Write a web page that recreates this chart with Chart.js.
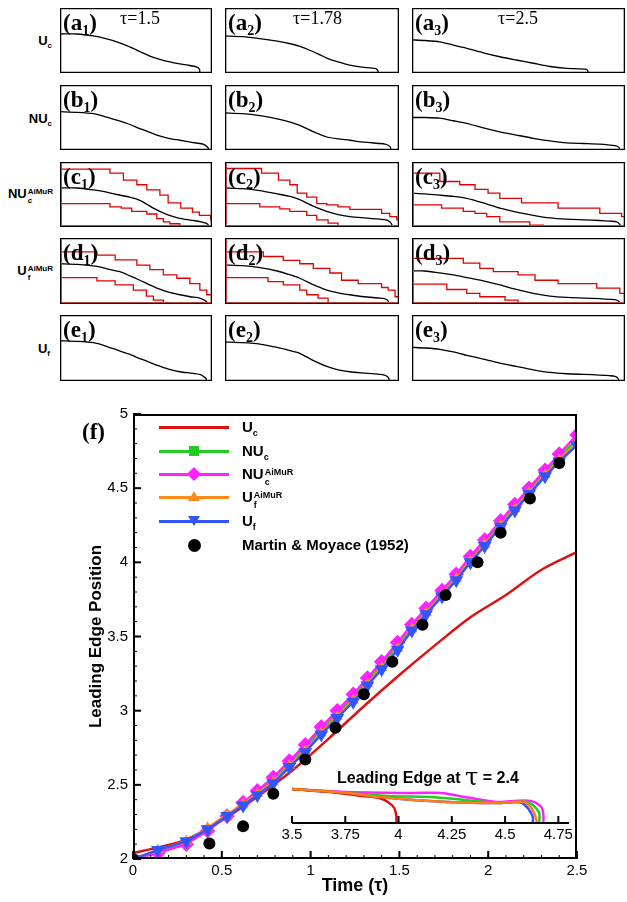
<!DOCTYPE html>
<html>
<head>
<meta charset="utf-8">
<script src="https://cdn.jsdelivr.net/npm/chart.js@4.4.0/dist/chart.umd.min.js"></script>
<style>
  body { margin: 0; background: #fff; width: 627px; height: 902px; position: relative; overflow: hidden; font-family: 'Liberation Sans', Arial, sans-serif; }
  .box { position: absolute; }
  .box canvas { display: block; }
  .pl { position: absolute; font: bold 23px 'Liberation Serif', 'Times New Roman', serif; line-height: 23px; white-space: nowrap; }
  .pl sub { font-size: 14px; vertical-align: -5px; line-height: 0; }
  .tl { position: absolute; font: 18px 'Liberation Serif', 'Times New Roman', serif; line-height: 18px; white-space: nowrap; }
  .rl { position: absolute; font: bold 13px 'Liberation Sans', Arial, sans-serif; line-height: 13px; white-space: nowrap; }
  .rl sub { font-size: 8px; vertical-align: -3px; line-height: 0; }
  .ss { display: inline-block; vertical-align: -5px; font-size: 8px; line-height: 9px; margin-left: 1px; }
  .ss span { display: block; }
  .lg-line { position: absolute; left: 159px; width: 70px; height: 3px; }
  .lt { position: absolute; left: 242px; font: bold 15px 'Liberation Sans', Arial, sans-serif; line-height: 15px; white-space: nowrap; }
  .lt sub { font-size: 9px; vertical-align: -4px; line-height: 0; }
  .lt .ss { font-size: 9px; line-height: 10px; vertical-align: -6px; }
  .mk { position: absolute; }
  .inset-title { position: absolute; left: 337px; top: 763px; font: bold 16px 'Liberation Sans', Arial, sans-serif; line-height: 20px; white-space: nowrap; }
  .inset-title .bt { font: 24px 'DejaVu Serif', serif; vertical-align: -2px; }
</style>
</head>
<body>

<!-- row labels -->
<div class="rl" style="right:575px;top:34px">U<sub>c</sub></div>
<div class="rl" style="right:575px;top:112px">NU<sub>c</sub></div>
<div class="rl" style="right:574px;top:187px">NU<span class="ss"><span>AiMuR</span><span>c</span></span></div>
<div class="rl" style="right:574px;top:264px">U<span class="ss"><span>AiMuR</span><span>f</span></span></div>
<div class="rl" style="right:577px;top:342px">U<sub>f</sub></div>

<div id="panels"></div>

<!-- panel (f) -->
<div class="box" style="left:0;top:400px;width:627px;height:502px"><canvas id="mainChart"></canvas></div>
<div class="box" style="left:270px;top:755px;width:330px;height:95px"><canvas id="insetChart"></canvas></div>
<div class="pl" style="left:82px;top:420px">(f)</div>
<div class="inset-title">Leading Edge at <span class="bt">τ</span> = 2.4</div>

<!-- legend -->
<div class="lg-line" style="top:426px;background:#dd1111"></div>
<div class="lt" style="top:419px">U<sub>c</sub></div>

<div class="lg-line" style="top:450px;background:#22cc22"></div>
<div class="mk" style="left:189px;top:446px;width:10px;height:10px;background:#22cc22"></div>
<div class="lt" style="top:443px">NU<sub>c</sub></div>

<div class="lg-line" style="top:473px;background:#ff22ff"></div>
<div class="mk" style="left:189px;top:469px;width:10px;height:10px;background:#ff22ff;transform:rotate(45deg)"></div>
<div class="lt" style="top:466px">NU<span class="ss"><span>AiMuR</span><span>c</span></span></div>

<div class="lg-line" style="top:496px;background:#ff8c1a"></div>
<div class="mk" style="left:188px;top:491px;width:0;height:0;border-left:6px solid transparent;border-right:6px solid transparent;border-bottom:10px solid #ff8c1a"></div>
<div class="lt" style="top:489px">U<span class="ss"><span>AiMuR</span><span>f</span></span></div>

<div class="lg-line" style="top:520px;background:#3355ff"></div>
<div class="mk" style="left:188px;top:516px;width:0;height:0;border-left:6px solid transparent;border-right:6px solid transparent;border-top:10px solid #3355ff"></div>
<div class="lt" style="top:513px">U<sub>f</sub></div>

<div class="mk" style="left:188px;top:539px;width:13px;height:13px;border-radius:50%;background:#000"></div>
<div class="lt" style="top:537px">Martin &amp; Moyace (1952)</div>

<script>
// ---------- panel (f): leading edge position vs time ----------
const tauMarks = [0, 0.14, 0.30, 0.42, 0.53, 0.62, 0.70, 0.79, 0.88, 0.97, 1.06, 1.15, 1.24, 1.32,
                  1.40, 1.49, 1.57, 1.65, 1.74, 1.82, 1.90, 1.98, 2.07, 2.15, 2.23, 2.32, 2.40, 2.50];
const posUf     = [2.00, 2.06, 2.12, 2.20, 2.29, 2.36, 2.43, 2.51, 2.62, 2.72, 2.84, 2.95, 3.06, 3.17,
                   3.28, 3.41, 3.54, 3.65, 3.77, 3.88, 4.00, 4.11, 4.24, 4.35, 4.46, 4.58, 4.68, 4.79];
const posUfAmr  = [2.00, 2.06, 2.12, 2.21, 2.30, 2.37, 2.44, 2.52, 2.63, 2.73, 2.85, 2.96, 3.07, 3.18,
                   3.29, 3.42, 3.55, 3.66, 3.78, 3.89, 4.01, 4.12, 4.25, 4.36, 4.47, 4.59, 4.69, 4.81];
const posNUc    = [2.00, 2.05, 2.11, 2.20, 2.29, 2.37, 2.45, 2.53, 2.64, 2.75, 2.87, 2.98, 3.09, 3.20,
                   3.31, 3.44, 3.56, 3.67, 3.79, 3.90, 4.02, 4.13, 4.26, 4.37, 4.48, 4.60, 4.71, 4.83];
const posNUcAmr = [2.00, 2.04, 2.10, 2.19, 2.29, 2.38, 2.46, 2.55, 2.66, 2.77, 2.89, 3.00, 3.11, 3.22,
                   3.33, 3.46, 3.58, 3.69, 3.81, 3.92, 4.04, 4.15, 4.28, 4.39, 4.50, 4.62, 4.73, 4.86];
const tauUc = [0, 0.15, 0.3, 0.5, 0.7, 0.9, 1.1, 1.3, 1.5, 1.7, 1.9, 2.1, 2.3, 2.5];
const posUc = [2.04, 2.08, 2.13, 2.26, 2.42, 2.60, 2.81, 3.03, 3.24, 3.44, 3.63, 3.78, 3.95, 4.07];
const tauExp = [0, 0.43, 0.62, 0.79, 0.97, 1.14, 1.30, 1.46, 1.63, 1.76, 1.94, 2.07, 2.235, 2.40];
const posExp = [2.0, 2.105, 2.22, 2.44, 2.67, 2.885, 3.11, 3.33, 3.58, 3.78, 4.0, 4.2, 4.43, 4.67];

// ---------- inset: leading edge shape at tau = 2.4  [x, height] ----------
const edgeUc     = [[3.5,0.34],[3.68,0.31],[3.83,0.27],[3.91,0.25],[3.95,0.21],[3.98,0.15],[3.99,0.06],[3.99,0]];
const edgeNUc    = [[3.5,0.34],[3.76,0.30],[3.95,0.27],[4.15,0.26],[4.31,0.23],[4.46,0.20],[4.54,0.21],[4.60,0.21],[4.63,0.18],[4.66,0.10],[4.66,0]];
const edgeNUcAmr = [[3.5,0.34],[3.76,0.31],[4.07,0.30],[4.20,0.30],[4.31,0.26],[4.46,0.21],[4.54,0.22],[4.62,0.22],[4.67,0.16],[4.68,0.08],[4.68,0]];
const edgeUfAmr  = [[3.5,0.34],[3.76,0.30],[3.91,0.26],[4.07,0.23],[4.23,0.21],[4.38,0.20],[4.48,0.20],[4.54,0.21],[4.59,0.21],[4.62,0.16],[4.64,0.08],[4.65,0]];
const edgeUf     = [[3.5,0.34],[3.76,0.30],[3.91,0.26],[4.07,0.23],[4.23,0.21],[4.38,0.20],[4.48,0.20],[4.54,0.21],[4.58,0.20],[4.61,0.14],[4.63,0.06],[4.63,0]];

// ---------- panels (a)-(e): interface profiles [x, height] ----------
const profA1 = [[0,0.60],[0.4,0.60],[0.76,0.57],[1.05,0.53],[1.31,0.48],[1.58,0.41],[1.84,0.33],[2.07,0.26],[2.30,0.21],[2.53,0.17],[2.76,0.14],[2.95,0.12],[3.11,0.10],[3.18,0.08],[3.22,0.04],[3.21,0]];
const profA2 = [[0,0.57],[0.4,0.56],[0.8,0.53],[1.2,0.49],[1.5,0.45],[1.72,0.41],[1.95,0.35],[2.18,0.28],[2.34,0.23],[2.6,0.17],[2.87,0.12],[3.15,0.09],[3.45,0.07],[3.50,0.05],[3.52,0.02],[3.51,0]];
const profA3 = [[0,0.51],[0.3,0.50],[0.64,0.48],[0.95,0.43],[1.26,0.38],[1.64,0.31],[2.02,0.25],[2.4,0.20],[2.79,0.15],[3.17,0.10],[3.56,0.07],[3.8,0.065],[4.0,0.06],[4.04,0.04],[4.05,0.01],[4.04,0]];
const profB1 = [[0,0.59],[0.4,0.58],[0.77,0.56],[1.05,0.51],[1.31,0.46],[1.58,0.40],[1.84,0.33],[2.04,0.28],[2.23,0.23],[2.5,0.18],[2.76,0.15],[3.0,0.12],[3.22,0.10],[3.33,0.08],[3.39,0.05],[3.42,0.02],[3.41,0]];
const profB2 = [[0,0.57],[0.4,0.56],[0.8,0.53],[1.2,0.48],[1.5,0.43],[1.72,0.38],[2.0,0.29],[2.34,0.20],[2.6,0.17],[2.87,0.15],[3.2,0.12],[3.56,0.10],[3.68,0.09],[3.76,0.07],[3.81,0.03],[3.80,0]];
const profB3 = [[0,0.50],[0.3,0.50],[0.64,0.49],[0.95,0.45],[1.26,0.41],[1.64,0.34],[2.02,0.28],[2.4,0.23],[2.79,0.18],[3.17,0.14],[3.56,0.11],[3.95,0.10],[4.32,0.09],[4.55,0.075],[4.71,0.06],[4.77,0.03],[4.78,0]];
const profC1 = [[0,0.60],[0.4,0.60],[0.77,0.57],[1.05,0.54],[1.3,0.50],[1.6,0.46],[1.84,0.41],[2.0,0.35],[2.15,0.29],[2.4,0.21],[2.61,0.16],[2.85,0.12],[3.07,0.10],[3.25,0.08],[3.36,0.06],[3.42,0.03],[3.43,0]];
const profC2 = [[0,0.60],[0.4,0.59],[0.8,0.56],[1.2,0.51],[1.5,0.47],[1.72,0.42],[2.0,0.33],[2.34,0.24],[2.6,0.19],[2.87,0.16],[3.2,0.14],[3.56,0.12],[3.7,0.11],[3.79,0.08],[3.84,0.03],[3.84,0]];
const profC3 = [[0,0.52],[0.3,0.51],[0.64,0.49],[0.95,0.47],[1.26,0.44],[1.64,0.37],[2.02,0.29],[2.4,0.23],[2.79,0.18],[3.17,0.14],[3.56,0.12],[3.95,0.11],[4.32,0.10],[4.55,0.09],[4.71,0.08],[4.78,0.04],[4.80,0]];
const profD1 = [[0,0.61],[0.4,0.60],[0.85,0.57],[1.1,0.53],[1.38,0.49],[1.6,0.43],[1.84,0.36],[2.03,0.30],[2.23,0.24],[2.5,0.18],[2.76,0.14],[3.0,0.11],[3.22,0.09],[3.32,0.06],[3.38,0.03],[3.39,0]];
const profD2 = [[0,0.59],[0.4,0.58],[0.8,0.55],[1.2,0.50],[1.5,0.44],[1.72,0.39],[2.0,0.30],[2.34,0.21],[2.6,0.17],[2.87,0.14],[3.2,0.11],[3.56,0.09],[3.66,0.08],[3.73,0.06],[3.77,0.02],[3.76,0]];
const profD3 = [[0,0.50],[0.3,0.50],[0.64,0.47],[0.95,0.44],[1.26,0.40],[1.64,0.35],[2.02,0.29],[2.4,0.22],[2.79,0.16],[3.17,0.12],[3.56,0.10],[3.95,0.09],[4.32,0.08],[4.55,0.07],[4.71,0.06],[4.77,0.03],[4.78,0]];
const profE1 = [[0,0.61],[0.4,0.60],[0.77,0.58],[1.05,0.53],[1.31,0.47],[1.58,0.41],[1.84,0.34],[2.04,0.29],[2.23,0.24],[2.5,0.18],[2.76,0.14],[3.0,0.12],[3.22,0.10],[3.3,0.07],[3.36,0.04],[3.38,0]];
const profE2 = [[0,0.59],[0.4,0.58],[0.8,0.56],[1.2,0.51],[1.5,0.46],[1.72,0.42],[2.0,0.32],[2.34,0.22],[2.6,0.17],[2.87,0.14],[3.2,0.12],[3.56,0.10],[3.66,0.09],[3.73,0.07],[3.77,0.03],[3.76,0]];
const profE3 = [[0,0.51],[0.3,0.50],[0.64,0.48],[0.95,0.44],[1.26,0.39],[1.64,0.33],[2.02,0.27],[2.4,0.22],[2.79,0.17],[3.17,0.13],[3.56,0.11],[3.95,0.10],[4.32,0.09],[4.55,0.08],[4.67,0.07],[4.74,0.04],[4.76,0]];

// refinement level boundaries (step points: [x where the step happens, new level])
const levC1Top = [[0,0.89],[1.15,0.83],[1.46,0.72],[1.77,0.65],[2.00,0.57],[2.30,0.49],[2.49,0.37],[2.78,0.29],[3.05,0.23],[3.21,0.18],[3.47,0.11],[3.5,0.11]];
const levC1Low = [[0,0.36],[1.15,0.31],[1.41,0.29],[1.65,0.24],[2.0,0.20],[2.23,0.13],[2.38,0.08],[2.53,0.05],[2.76,0]];
const levC2Top = [[0,0.90],[0.84,0.83],[1.23,0.72],[1.49,0.65],[1.66,0.52],[1.88,0.46],[2.11,0.36],[2.34,0.34],[2.60,0.31],[2.87,0.27],[3.60,0.21],[3.79,0.16],[3.95,0.11],[4.0,0.11]];
const levC2Low = [[0,0.36],[0.80,0.31],[1.26,0.28],[1.49,0.24],[1.88,0.18],[2.11,0.11],[2.37,0.06],[2.60,0.01],[2.87,0]];
const levC3Top = [[0,0.83],[0.64,0.70],[1.10,0.65],[1.45,0.58],[1.75,0.52],[2.02,0.44],[2.52,0.37],[3.36,0.29],[4.32,0.21],[4.82,0.16],[4.9,0.16]];
const levC3Low = [[0,0.34],[0.68,0.29],[1.18,0.24],[1.45,0.21],[1.72,0.16],[2.02,0.08],[2.71,0.03],[3.02,0]];
const levD1Top = [[0,0.79],[0.85,0.74],[1.27,0.67],[1.77,0.59],[2.07,0.52],[2.38,0.44],[2.69,0.39],[2.99,0.31],[3.22,0.21],[3.38,0.14],[3.5,0.14]];
const levD1Low = [[0,0.40],[0.85,0.35],[1.27,0.29],[1.69,0.21],[1.99,0.12],[2.15,0.06],[2.38,0]];
const levD2Top = [[0,0.79],[0.88,0.72],[1.34,0.66],[1.72,0.61],[2.03,0.54],[2.41,0.47],[2.68,0.36],[3.06,0.31],[3.60,0.25],[3.75,0.21],[3.91,0.11],[4.0,0.11]];
const levD2Low = [[0,0.40],[0.99,0.34],[1.34,0.29],[1.72,0.21],[1.88,0.14],[2.14,0.09],[2.37,0]];
const levD3Top = [[0,0.69],[1.18,0.62],[1.56,0.54],[1.87,0.49],[2.44,0.44],[2.83,0.36],[3.36,0.31],[4.25,0.24],[4.78,0.16],[4.9,0.16]];
const levD3Low = [[0,0.30],[0.80,0.22],[1.26,0.16],[1.56,0.11],[2.14,0.06],[2.44,0]];

const panelTaus = ['1.5', '1.78', '2.5'];
const panelDomains = [3.5, 4.0, 4.9];

// ---------- plugins ----------
const framePlugin = {
    id: 'frame',
    afterDraw(chart, args, o) {
        if (!o || !o.width) return;
        const ctx = chart.ctx;
        const ca = chart.chartArea;
        const h = o.width / 2;
        ctx.save();
        ctx.lineWidth = o.width;
        ctx.strokeStyle = o.color;
        ctx.beginPath();
        if (o.bottomOnly) {
            ctx.moveTo(ca.left, ca.bottom);
            ctx.lineTo(ca.right, ca.bottom);
        } else {
            ctx.rect(ca.left + h, ca.top + h, ca.right - ca.left - o.width, ca.bottom - ca.top - o.width);
        }
        ctx.stroke();
        if (o.edge) {
            ctx.strokeStyle = o.edge;
            ctx.lineWidth = 1;
            ctx.beginPath();
            ctx.moveTo(ca.left + 1.5, ca.top + 1);
            ctx.lineTo(ca.left + 1.5, ca.bottom - 1.5);
            ctx.lineTo(ca.right - 1, ca.bottom - 1.5);
            ctx.stroke();
        }
        ctx.restore();
    }
};

const tickPlugin = {
    id: 'inTicks',
    afterDraw(chart, args, o) {
        if (!o || !o.list) return;
        const ctx = chart.ctx;
        const ca = chart.chartArea;
        ctx.save();
        ctx.strokeStyle = '#000';
        o.list.forEach(function(t) {
            const sc = chart.scales[t.axis];
            const n = Math.round((sc.max - sc.min) / t.step + 1e-6);
            ctx.lineWidth = t.width;
            for (let i = 0; i <= n; i++) {
                const p = sc.getPixelForValue(sc.min + i * t.step);
                ctx.beginPath();
                if (sc.isHorizontal()) {
                    ctx.moveTo(p, ca.bottom);
                    ctx.lineTo(p, ca.bottom - t.len);
                } else {
                    ctx.moveTo(ca.left, p);
                    ctx.lineTo(ca.left + t.len, p);
                }
                ctx.stroke();
            }
        });
        ctx.restore();
    }
};

Chart.register(framePlugin, tickPlugin);
Chart.defaults.font.family = "'Liberation Sans', Arial, sans-serif";
Chart.defaults.color = '#000';

function xy(pairs) {
    return pairs.map(function(p) { return {x: p[0], y: p[1]}; });
}
// plain tick text: 5, 4.5, 3.75 ...
function plainTick(v) {
    return String(Number(v.toFixed(2)));
}

// ---------- small panels ----------
const colBoxes = [{left: 60, width: 152}, {left: 225, width: 174}, {left: 412, width: 213}];
const rowBoxes = [{top: 8, height: 65}, {top: 85, height: 65}, {top: 162, height: 65}, {top: 238, height: 66}, {top: 315, height: 66}];
const rowLetters = ['a', 'b', 'c', 'd', 'e'];
const profiles = [
    [profA1, profA2, profA3],
    [profB1, profB2, profB3],
    [profC1, profC2, profC3],
    [profD1, profD2, profD3],
    [profE1, profE2, profE3]
];
const levels = {
    2: [[levC1Top, levC1Low], [levC2Top, levC2Low], [levC3Top, levC3Low]],
    3: [[levD1Top, levD1Low], [levD2Top, levD2Low], [levD3Top, levD3Low]]
};

const holder = document.getElementById('panels');
rowBoxes.forEach(function(rb, r) {
    colBoxes.forEach(function(cb, c) {
        const div = document.createElement('div');
        div.className = 'box';
        div.style.left = cb.left + 'px';
        div.style.top = rb.top + 'px';
        div.style.width = cb.width + 'px';
        div.style.height = rb.height + 'px';
        const cv = document.createElement('canvas');
        div.appendChild(cv);
        holder.appendChild(div);

        const datasets = [];
        if (levels[r]) {
            levels[r][c].forEach(function(lv) {
                datasets.push({data: xy(lv), stepped: true, borderColor: '#e00000', borderWidth: 1.3, pointRadius: 0, clip: 3});
            });
        }
        datasets.unshift({data: xy(profiles[r][c]), borderColor: '#000', borderWidth: 1.3, pointRadius: 0, tension: 0.2, clip: 3});

        new Chart(cv, {
            type: 'line',
            data: {datasets: datasets},
            options: {
                responsive: true,
                maintainAspectRatio: false,
                animation: false,
                devicePixelRatio: 1,
                layout: {padding: 0},
                scales: {
                    x: {type: 'linear', min: 0, max: panelDomains[c], display: false},
                    y: {type: 'linear', min: 0, max: 1, display: false}
                },
                plugins: {
                    legend: {display: false},
                    tooltip: {enabled: false},
                    frame: {width: 1.3, color: '#000', edge: levels[r] ? '#c04040' : null},
                    inTicks: false
                }
            }
        });

        const lab = document.createElement('div');
        lab.className = 'pl';
        lab.style.left = (cb.left + 3) + 'px';
        lab.style.top = (rb.top + 3) + 'px';
        lab.innerHTML = '(' + rowLetters[r] + '<sub>' + (c + 1) + '</sub>)';
        document.body.appendChild(lab);
    });
});

const tauLeft = [120, 293, 498];
panelTaus.forEach(function(t, c) {
    const d = document.createElement('div');
    d.className = 'tl';
    d.style.left = tauLeft[c] + 'px';
    d.style.top = '9px';
    d.textContent = 'τ=' + t;
    document.body.appendChild(d);
});

// ---------- main chart ----------
function series(xs, ys) {
    return xs.map(function(x, i) { return {x: x, y: ys[i]}; });
}

new Chart(document.getElementById('mainChart'), {
    type: 'line',
    data: {
        datasets: [
            {label: 'Martin & Moyace (1952)', data: series(tauExp, posExp), showLine: false,
             pointRadius: 6, pointBackgroundColor: '#000', pointBorderColor: '#000', pointBorderWidth: 0},
            {label: 'Uf', data: series(tauMarks, posUf), borderColor: '#3355ff', borderWidth: 2.5,
             pointStyle: 'triangle', pointRotation: 180, pointRadius: 5.5, pointBackgroundColor: '#3355ff', pointBorderColor: '#3355ff'},
            {label: 'Uf AiMuR', data: series(tauMarks, posUfAmr), borderColor: '#ff8c1a', borderWidth: 2.5,
             pointStyle: 'triangle', pointRadius: 4, pointBackgroundColor: '#ff8c1a', pointBorderColor: '#ff8c1a'},
            {label: 'NUc AiMuR', data: series(tauMarks, posNUcAmr), borderColor: '#ff22ff', borderWidth: 2.5,
             pointStyle: 'rectRot', pointRadius: 6, pointBackgroundColor: '#ff22ff', pointBorderColor: '#ff22ff'},
            {label: 'NUc', data: series(tauMarks, posNUc), borderColor: '#22cc22', borderWidth: 2.5,
             pointStyle: 'rect', pointRadius: 4.5, pointBackgroundColor: '#22cc22', pointBorderColor: '#22cc22'},
            {label: 'Uc', data: series(tauUc, posUc), borderColor: '#dd1111', borderWidth: 2.5,
             pointRadius: 0, tension: 0.3}
        ]
    },
    options: {
        responsive: true,
        maintainAspectRatio: false,
        animation: false,
        devicePixelRatio: 1,
        layout: {padding: {top: 14, right: 50, left: 0, bottom: 0}},
        scales: {
            x: {
                type: 'linear', min: 0, max: 2.5,
                grid: {display: false, drawTicks: false},
                border: {display: false},
                ticks: {stepSize: 0.5, padding: 3, font: {size: 15}, callback: plainTick},
                title: {display: true, text: 'Time (τ)', font: {size: 18, weight: 'bold'}, padding: {top: 0, bottom: 5}},
                afterFit: function(s) { s.height = 43; }
            },
            y: {
                type: 'linear', min: 2, max: 5,
                grid: {display: false, drawTicks: false},
                border: {display: false},
                ticks: {stepSize: 0.5, padding: 5, font: {size: 15}, callback: plainTick},
                title: {display: true, text: 'Leading Edge Position', font: {size: 17, weight: 'bold'}, padding: {top: 86, bottom: 0}},
                afterFit: function(s) { s.width = 133; }
            }
        },
        plugins: {
            legend: {display: false},
            tooltip: {enabled: false},
            frame: {width: 2, color: '#000'},
            inTicks: {list: [
                {axis: 'x', step: 0.5, len: 8, width: 2},
                {axis: 'x', step: 0.1, len: 4, width: 1},
                {axis: 'y', step: 0.5, len: 8, width: 2},
                {axis: 'y', step: 0.1, len: 4, width: 1}
            ]}
        }
    }
});

// ---------- inset ----------
new Chart(document.getElementById('insetChart'), {
    type: 'line',
    data: {
        datasets: [
            {data: xy(edgeUfAmr), borderColor: '#ff7a1a', borderWidth: 2.5, pointRadius: 0, tension: 0.3, clip: false},
            {data: xy(edgeUc), borderColor: '#dd1111', borderWidth: 2.5, pointRadius: 0, tension: 0.3, clip: false},
            {data: xy(edgeNUc), borderColor: '#22cc22', borderWidth: 2.5, pointRadius: 0, tension: 0.3, clip: false},
            {data: xy(edgeNUcAmr), borderColor: '#ff22ff', borderWidth: 2.5, pointRadius: 0, tension: 0.3, clip: false},
            {data: xy(edgeUf), borderColor: '#3355ff', borderWidth: 2.5, pointRadius: 0, tension: 0.3, clip: false}
        ]
    },
    options: {
        responsive: true,
        maintainAspectRatio: false,
        animation: false,
        devicePixelRatio: 1,
        layout: {padding: {top: 28, right: 31, left: 22, bottom: 0}},
        scales: {
            x: {
                type: 'linear', min: 3.5, max: 4.8,
                grid: {display: false, drawTicks: false},
                border: {display: false},
                ticks: {stepSize: 0.25, padding: 3, font: {size: 15}, includeBounds: false, callback: plainTick},
                afterFit: function(s) { s.height = 27; }
            },
            y: {type: 'linear', min: 0, max: 0.4, display: false}
        },
        plugins: {
            legend: {display: false},
            tooltip: {enabled: false},
            frame: {width: 2, color: '#000', bottomOnly: true},
            inTicks: {list: [{axis: 'x', step: 0.25, len: 7, width: 2}]}
        }
    }
});
</script>
</body>
</html>
